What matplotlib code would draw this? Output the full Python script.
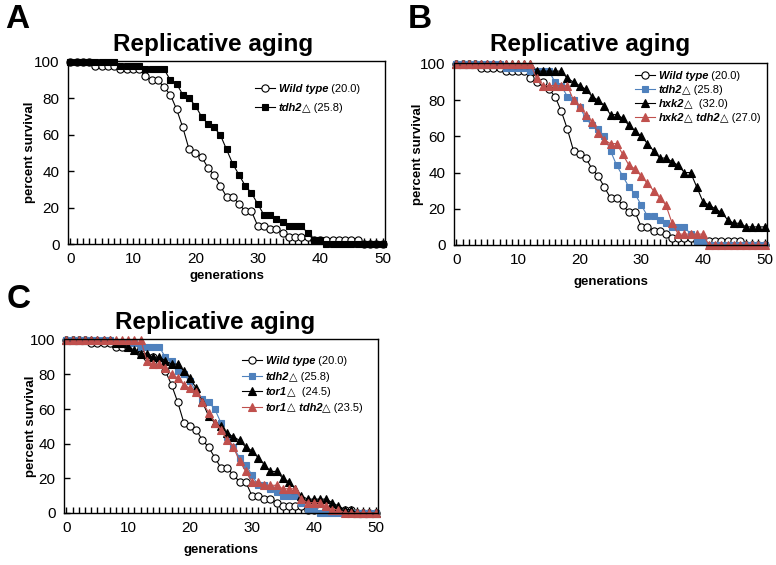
import matplotlib
matplotlib.use("Agg")
import matplotlib.pyplot as plt

plt.rcParams['font.family'] = ['Liberation Sans', 'DejaVu Sans']

# Survival (%) at each generation
gens = list(range(51))
wild_type = [100, 100, 100, 100, 98, 98, 98, 98, 96, 96, 96, 96, 92, 90, 90, 86, 82, 74, 64, 52,
             50, 48, 42, 38, 32, 26, 26, 22, 18, 18, 10, 10, 8, 8, 6, 4, 4, 4, 4, 2,
             2, 2, 2, 2, 2, 2, 2, 0, 0, 0, 0]
tdh2 = [100, 100, 100, 100, 100, 100, 100, 100, 98, 98, 98, 98, 96, 96, 96, 96, 90, 88, 82, 80,
        76, 70, 66, 64, 60, 52, 44, 38, 32, 28, 22, 16, 16, 14, 12, 10, 10, 10, 6, 2,
        2, 0, 0, 0, 0, 0, 0, 0, 0, 0, 0]
hxk2 = [100, 100, 100, 100, 100, 100, 100, 100, 100, 100, 100, 100, 100, 96, 96, 96, 96, 96, 92, 90,
        88, 86, 82, 80, 77, 72, 72, 70, 66, 63, 60, 56, 52, 48, 48, 46, 44, 40, 40, 32,
        24, 22, 20, 18, 14, 12, 12, 10, 10, 10, 10]
hxk2_tdh2 = [100, 100, 100, 100, 100, 100, 100, 100, 100, 100, 100, 100, 100, 92, 88, 88, 88, 88, 88, 80,
             76, 72, 68, 62, 58, 56, 56, 50, 44, 42, 38, 34, 30, 26, 22, 12, 6, 6, 6, 6,
             6, 0, 0, 0, 0, 0, 0, 0, 0, 0, 0]
tor1 = [100, 100, 100, 100, 100, 100, 100, 100, 98, 98, 96, 94, 92, 92, 90, 90, 88, 86, 86, 82,
        78, 72, 64, 56, 52, 50, 46, 44, 42, 38, 36, 32, 28, 24, 24, 20, 18, 14, 10, 8,
        8, 8, 8, 6, 4, 2, 2, 0, 0, 0, 0]
tor1_tdh2 = [100, 100, 100, 100, 100, 100, 100, 100, 100, 100, 100, 100, 100, 88, 86, 86, 84, 80, 78, 74,
             72, 70, 64, 58, 52, 48, 42, 38, 30, 24, 18, 18, 16, 16, 16, 14, 14, 14, 8, 6,
             6, 6, 4, 2, 2, 0, 0, 0, 0, 0, 0]

# legend labels: alternating bold-italic gene name / regular text
lbl_wt = ["Wild type", " (20.0)"]
lbl_tdh2 = ["tdh2", "\u25b3 (25.8)"]
lbl_hxk2 = ["hxk2", "\u25b3  (32.0)"]
lbl_hxk2_tdh2 = ["hxk2", "\u25b3", " tdh2", "\u25b3 (27.0)"]
lbl_tor1 = ["tor1", "\u25b3  (24.5)"]
lbl_tor1_tdh2 = ["tor1", "\u25b3", " tdh2", "\u25b3 (23.5)"]

BLUE = '#4f81bd'
RED = '#c0504d'
W, H = 776, 565

fig = plt.figure(figsize=(W / 100, H / 100), dpi=100)


def px_axes(left, top, right, bottom):
    return fig.add_axes([left / W, 1 - bottom / H, (right - left) / W, (bottom - top) / H])


def setup(ax, xl_y, yl_x):
    ax.set_xlim(-0.4, 50.4)
    ax.set_ylim(0, 100.5)
    ax.set_xticks(range(0, 51, 10))
    ax.set_xticks(gens, minor=True)
    ax.set_yticks(range(0, 101, 20))
    ax.tick_params(which='both', direction='in', length=4, width=1, labelsize=11, pad=6)
    for s in ax.spines.values():
        s.set_linewidth(1)
    ax.set_xlabel("generations", fontsize=9.5, fontweight='bold')
    ax.set_ylabel("percent survival", fontsize=9.5, fontweight='bold')
    ax.xaxis.set_label_coords(0.5, xl_y)
    ax.yaxis.set_label_coords(yl_x, 0.5)


def curve(ax, y, color, marker, ms, open_marker=False):
    line, = ax.plot(gens, y, color=color, marker=marker, markersize=ms, lw=0.8, mew=0.8,
                    mfc='white' if open_marker else color, mec=color, clip_on=False)
    return line


bi = dict(fontsize=8, fontweight='bold', fontstyle='italic')
rg = dict(fontsize=8, fontweight='normal', fontstyle='normal')


def legend(ax, lines, labels, x, y, spacing):
    leg = ax.legend(lines, [l[0] for l in labels], loc='upper left',
                    bbox_to_anchor=(x / W, 1 - y / H), bbox_transform=fig.transFigure,
                    frameon=False, borderpad=0, borderaxespad=0, handlelength=1.8,
                    handletextpad=0.35, labelspacing=spacing, numpoints=1,
                    prop={'size': 8, 'weight': 'bold', 'style': 'italic'})
    for txt, segs in zip(leg.get_texts(), labels):
        prev = txt
        for i, seg in enumerate(segs[1:]):
            style = rg if i % 2 == 0 else bi
            prev = ax.annotate(seg, xy=(1, 0), xycoords=prev, ha='left', va='bottom',
                               zorder=6, **style)


def titles(letter, lx, ly, tx, ty):
    fig.text(lx / W, 1 - ly / H, letter, fontsize=24, fontweight='bold', ha='center', va='center')
    fig.text(tx / W, 1 - ty / H, "Replicative aging", fontsize=17.5, fontweight='bold',
             ha='center', va='center')


# Panel A
axA = px_axes(68, 61, 385, 244)
setup(axA, -0.14, -0.10)
la = [curve(axA, wild_type, 'black', 'o', 5.2, True),
      curve(axA, tdh2, 'black', 's', 4.8)]
legend(axA, la, [lbl_wt, lbl_tdh2], 255, 84, 0.8)
titles("A", 17, 20, 213, 45)

# Panel B
axB = px_axes(454, 63, 767, 245)
setup(axB, -0.17, -0.095)
lb = [curve(axB, wild_type, 'black', 'o', 5.2, True),
      curve(axB, tdh2, BLUE, 's', 4.8),
      curve(axB, hxk2, 'black', '^', 5.5),
      curve(axB, hxk2_tdh2, RED, '^', 5.5)]
legend(axB, lb, [lbl_wt, lbl_tdh2, lbl_hxk2, lbl_hxk2_tdh2], 635, 71, 0.36)
titles("B", 420, 19, 590, 45)

# Panel C
axC = px_axes(64, 339, 378, 513)
setup(axC, -0.18, -0.086)
lc = [curve(axC, wild_type, 'black', 'o', 5.2, True),
      curve(axC, tdh2, BLUE, 's', 4.8),
      curve(axC, tor1, 'black', '^', 5.5),
      curve(axC, tor1_tdh2, RED, '^', 5.5)]
legend(axC, lc, [lbl_wt, lbl_tdh2, lbl_tor1, lbl_tor1_tdh2], 242, 356, 0.5)
titles("C", 19, 300, 215, 322)

fig.savefig("out.png", dpi=100)
